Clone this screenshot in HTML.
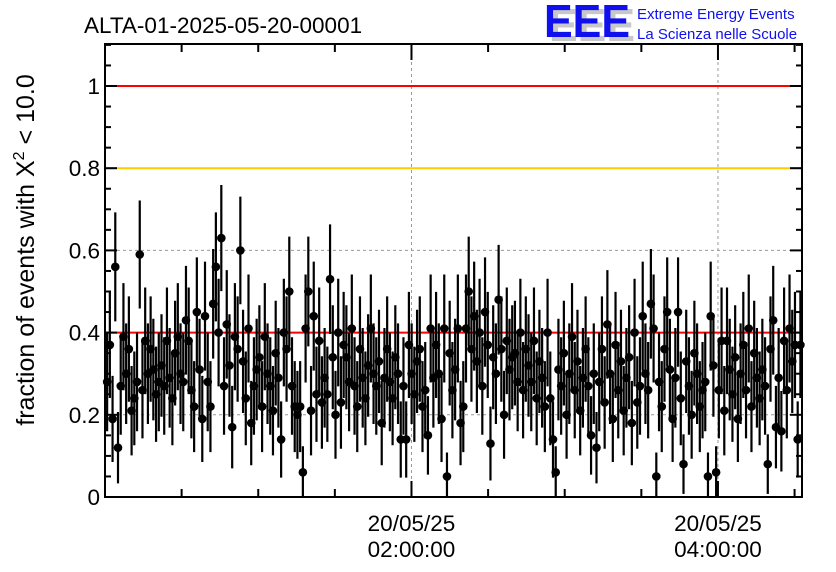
<!DOCTYPE html>
<html><head><meta charset="utf-8"><style>
body{margin:0;background:#fff;}
svg{display:block;font-family:"Liberation Sans",sans-serif;}
</style></head><body>
<svg id="chart" width="836" height="572" viewBox="0 0 836 572">
<text x="84" y="33" font-size="22.5" fill="#000">ALTA-01-2025-05-20-00001</text>
<g>
<text x="549" y="41" font-size="46" font-weight="bold" fill="#c8c8c8" textLength="86" lengthAdjust="spacingAndGlyphs">EEE</text>
<text x="544" y="37" font-size="46" font-weight="bold" fill="#1010ee" textLength="86" lengthAdjust="spacingAndGlyphs">EEE</text>
<text x="637" y="19" font-size="15" fill="#1010ee">Extreme Energy Events</text>
<text x="637" y="39" font-size="15" fill="#1010ee">La Scienza nelle Scuole</text>
</g>
<g id="grid"></g>
<g id="lines"></g>
<g id="marks"></g>
<g id="axes"></g>
<text transform="translate(34,250) rotate(-90)" text-anchor="middle" font-size="25">fraction of events with X<tspan font-size="16" dy="-10">2</tspan><tspan dy="10"> &lt; 10.0</tspan></text>
</svg>
<script>
const values = [
0.28,0.37,0.19,0.56,0.12,0.27,0.39,0.30,0.36,0.21,
0.24,0.28,0.59,0.26,0.38,0.30,0.36,0.31,0.25,0.28,
0.32,0.27,0.38,0.29,0.24,0.35,0.39,0.30,0.28,0.43,
0.38,0.26,0.22,0.45,0.31,0.19,0.44,0.28,0.22,0.47,
0.56,0.40,0.63,0.27,0.42,0.32,0.17,0.39,0.36,0.60,
0.33,0.24,0.41,0.18,0.27,0.31,0.34,0.22,0.39,0.30,
0.27,0.21,0.35,0.29,0.14,0.40,0.36,0.50,0.27,0.22,
0.20,0.22,0.06,0.41,0.50,0.21,0.44,0.25,0.38,0.23,
0.29,0.25,0.53,0.34,0.20,0.40,0.23,0.37,0.34,0.28,
0.41,0.27,0.22,0.36,0.29,0.24,0.32,0.41,0.30,0.27,
0.33,0.18,0.29,0.36,0.28,0.24,0.34,0.30,0.14,0.27,
0.14,0.37,0.30,0.25,0.33,0.36,0.22,0.26,0.15,0.41,
0.29,0.37,0.30,0.19,0.41,0.05,0.35,0.26,0.31,0.41,
0.18,0.22,0.41,0.50,0.36,0.44,0.33,0.40,0.27,0.45,
0.37,0.13,0.34,0.30,0.48,0.36,0.20,0.38,0.31,0.34,
0.35,0.28,0.40,0.26,0.36,0.32,0.28,0.38,0.24,0.33,
0.29,0.22,0.40,0.24,0.14,0.06,0.31,0.27,0.35,0.20,
0.30,0.39,0.26,0.33,0.21,0.29,0.36,0.27,0.15,0.30,
0.12,0.28,0.36,0.23,0.42,0.30,0.19,0.37,0.26,0.33,
0.21,0.29,0.34,0.18,0.40,0.23,0.27,0.44,0.30,0.26,
0.47,0.41,0.05,0.28,0.22,0.36,0.45,0.31,0.19,0.29,
0.45,0.24,0.08,0.33,0.27,0.20,0.35,0.30,0.22,0.26,
0.28,0.05,0.44,0.32,0.06,0.26,0.38,0.21,0.38,0.31,
0.25,0.34,0.19,0.30,0.37,0.26,0.41,0.22,0.35,0.29,
0.24,0.31,0.27,0.08,0.36,0.43,0.17,0.29,0.16,0.38,
0.26,0.41,0.33,0.37,0.14,0.37];
const eventsPerPoint = 14;
const yTicks = [0,0.2,0.4,0.6,0.8,1];
const yTickLabels = ["0","0.2","0.4","0.6","0.8","1"];
const xTickMinutes = [120,240];
const xTickDates = ["20/05/25","20/05/25"];
const xTickTimes = ["02:00:00","04:00:00"];
const thresholds = [1.0,0.8,0.4];
const thresholdColors = ["#ff0000","#ffcc00","#ff0000"];

const L=105,R=802,T=44,B=497;
const NS="http://www.w3.org/2000/svg";
const pxPerMin=2.554;
const startMin=0.3, stepMin=(R-L-1)/values.length/pxPerMin;
const xs=m=>L+m*pxPerMin;
const ys=v=>B-v*411;
function mk(tag,attrs,parent){const e=document.createElementNS(NS,tag);for(const k in attrs)e.setAttribute(k,attrs[k]);parent.appendChild(e);return e;}
const grid=document.getElementById('grid'),lines=document.getElementById('lines'),marks=document.getElementById('marks'),axes=document.getElementById('axes');

yTicks.forEach((v,i)=>{
  if(v>0){const g=mk('line',{x1:L,x2:R,y1:ys(v),y2:ys(v),stroke:'#999','stroke-dasharray':'3,3','stroke-width':1},grid);
  
  }
  const t=mk('text',{x:L-5,y:ys(v)+8,'text-anchor':'end','font-size':22.5},axes);t.textContent=yTickLabels[i];
  
  
});
xTickMinutes.forEach((m,i)=>{
  const g=mk('line',{x1:xs(m),x2:xs(m),y1:T,y2:B,stroke:'#999','stroke-dasharray':'3,3','stroke-width':1},grid);
  
  
  const t1=mk('text',{x:xs(m),y:531,'text-anchor':'middle','font-size':22.5},axes);t1.textContent=xTickDates[i];
  
  
  const t2=mk('text',{x:xs(m),y:557,'text-anchor':'middle','font-size':22.5},axes);t2.textContent=xTickTimes[i];
  
  
});
thresholds.forEach((v,i)=>{
  const l=mk('line',{x1:L,x2:R,y1:ys(v),y2:ys(v),stroke:thresholdColors[i],'stroke-width':2},lines);
  
  
});
values.forEach((v,i)=>{
  const x=xs(startMin+(i+0.5)*stepMin);
  const e=Math.sqrt(v*(1-v)/eventsPerPoint);
  const bar=mk('line',{x1:x,x2:x,y1:ys(Math.min(1.1,v+e)),y2:ys(Math.max(0,v-e)),stroke:'#000','stroke-width':2.2},marks);
  
  
  const c=mk('circle',{cx:x,cy:ys(v),r:4.3,fill:'#000'},marks);
  
  
});
const fr=mk('rect',{x:L,y:T,width:R-L,height:B-T,fill:'none',stroke:'#000','stroke-width':2},axes);


for(let k=0;k<=22;k++){const v=k*0.05;const len=(k%4===0)?12:6;
  mk('line',{x1:L,x2:L+len,y1:ys(v),y2:ys(v),stroke:'#000','stroke-width':2},axes);
  mk('line',{x1:R-len,x2:R,y1:ys(v),y2:ys(v),stroke:'#000','stroke-width':2},axes);}
for(let m=30;m<=270;m+=30){const len=(m%120===0)?16:8;const x=xs(m);
  mk('line',{x1:x,x2:x,y1:B,y2:B-len,stroke:'#000','stroke-width':2},axes);
  mk('line',{x1:x,x2:x,y1:T,y2:T+len,stroke:'#000','stroke-width':2},axes);}
</script>
</body></html>
